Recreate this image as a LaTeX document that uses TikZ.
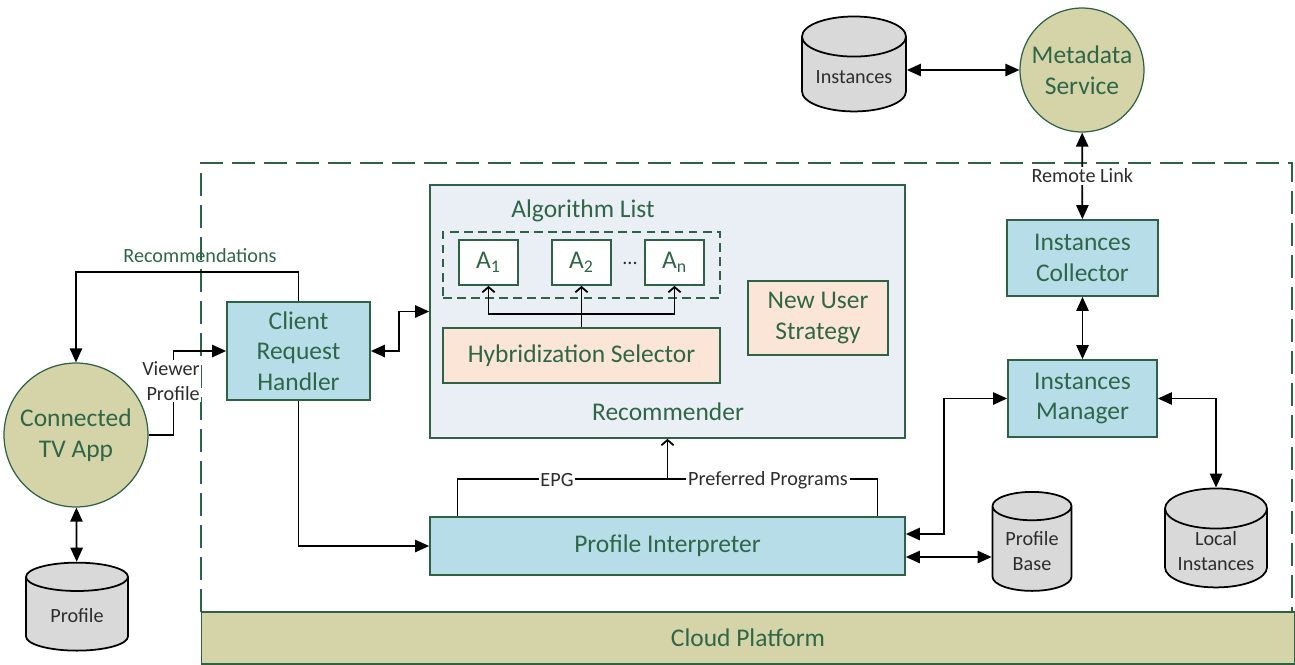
\documentclass[tikz,border=0pt]{standalone}
\usepackage{fontspec}
\setmainfont{Carlito}
\usetikzlibrary{arrows.meta}
\usetikzlibrary{shapes.geometric}

\definecolor{boxgreen}{RGB}{45,98,68}
\definecolor{txtgreen}{RGB}{48,102,72}
\definecolor{boxblue}{RGB}{183,221,232}
\definecolor{recfill}{RGB}{233,239,245}
\definecolor{peach}{RGB}{251,229,214}
\definecolor{olive}{RGB}{212,212,168}
\definecolor{cylgray}{RGB}{217,217,217}
\definecolor{lbltxt}{RGB}{45,45,45}

\newcommand{\boxfont}{\fontsize{14.5}{17.5}\selectfont}
\newcommand{\lblfont}{\fontsize{11.5}{14}\selectfont}

\begin{document}
\begin{tikzpicture}[x=0.02cm,y=-0.02cm,
	box/.style={rectangle,draw=boxgreen,line width=1pt,fill=boxblue,text=txtgreen,font=\boxfont,align=center,inner sep=2pt},
	algbox/.style={box,fill=white,minimum width=1.18cm,minimum height=0.9cm},
	orangebox/.style={box,fill=peach},
	roundnode/.style={circle,draw=boxgreen,line width=0.7pt,fill=olive,text=txtgreen,font=\boxfont,align=center,inner sep=0pt},
	cyl/.style={cylinder,shape border rotate=90,aspect=0.5,draw=black,line width=1pt,fill=cylgray,text=lbltxt,font=\lblfont,align=center,inner sep=1pt},
	lbl/.style={font=\lblfont,text=lbltxt,inner sep=1pt},
	arr/.style={line width=1pt,-{Triangle[length=8pt,width=7pt]}},
	dbl/.style={line width=1pt,{Triangle[length=8pt,width=7pt]}-{Triangle[length=8pt,width=7pt]}},
	open/.style={line width=1pt,-{Straight Barb[length=3pt,width=7pt]}}]

	\useasboundingbox (0,0) rectangle (1295,664);

	% cloud platform frame
	\draw[boxgreen,line width=1.2pt,dash pattern=on 0.46cm off 0.18cm] (201,612) -- (201,163) -- (1292,163) -- (1292,612);
	\node[box,fill=olive,minimum width=21.86cm,minimum height=1.04cm] (cloud) at (748,638) {Cloud Platform};

	% recommender
	\node[box,fill=recfill,minimum width=9.5cm,minimum height=5.06cm] (recom) at (667.5,311.5) {};
	\node[text=txtgreen,font=\boxfont] (reclabel) at (668,412) {Recommender};
	\node[text=txtgreen,font=\boxfont] (alglabel) at (583,211) {Algorithm List};
	\node[draw=boxgreen,line width=1pt,dash pattern=on 5pt off 3pt,minimum width=5.54cm,minimum height=1.32cm] (alglist) at (581.5,265) {};
	\node[algbox] (a1) at (488.5,262.5) {A\textsubscript{1}};
	\node[algbox] (a2) at (581.5,262.5) {A\textsubscript{2}};
	\node[algbox] (an) at (674.5,262.5) {A\textsubscript{n}};
	\node[lbl] (dots) at (630,263) {...};
	\node[orangebox,minimum width=5.54cm,minimum height=1.1cm] (hybrid) at (581.5,355.5) {Hybridization Selector};
	\node[orangebox,minimum width=2.8cm,minimum height=1.48cm] (newuser) at (818,318) {New User\\Strategy};

	\draw[line width=1pt] (hybrid.north) -- ++(0,0.26cm) coordinate (hs);
	\draw[open] (hs) -| (a1.south);
	\draw[open] (hs) -| (an.south);
	\draw[open] (hybrid.north) -- (a2.south);

	% other boxes
	\node[box,minimum width=2.86cm,minimum height=1.96cm] (crh) at (298.5,351) {Client\\Request\\Handler};
	\node[box,minimum width=9.5cm,minimum height=1.16cm] (profint) at (667.5,546) {Profile Interpreter};
	\node[box,minimum width=3.02cm,minimum height=1.52cm] (instcoll) at (1082.5,258) {Instances\\Collector};
	\node[box,minimum width=2.98cm,minimum height=1.54cm] (instmgr) at (1082.5,398.5) {Instances\\Manager};

	\node[roundnode,minimum size=2.88cm] (tvapp) at (76,435) {Connected\\TV App};
	\node[roundnode,minimum size=2.48cm] (metasvc) at (1082,70) {Metadata\\Service};

	\node[cyl,minimum width=2.08cm,minimum height=1.9cm] (instances) at (854,77) {Instances};
	\node[cyl,minimum width=2.04cm,minimum height=1.76cm] (profile) at (77,616) {Profile};
	\node[cyl,minimum width=1.58cm,minimum height=1.98cm] (profbase) at (1032,551) {Profile\\Base};
	\node[cyl,minimum width=2.04cm,minimum height=1.98cm] (localinst) at (1216,551) {Local\\Instances};

	% connectors
	\draw[dbl] (instances.east |- metasvc.west) -- (metasvc.west);
	\draw[dbl] (metasvc) -- node[lbl,fill=white] (remlink) {Remote Link} (instcoll);
	\draw[dbl] (instcoll) -- (instmgr);
	\draw[dbl] ([yshift=0.24cm]profint.east) -- ++(0.76cm,0) |- (instmgr.west);
	\draw[dbl] (instmgr.east) -| (localinst.north);
	\draw[dbl] ([yshift=-0.22cm]profint.east) -- ([yshift=-0.22cm]profint.east -| profbase.west);
	\draw[dbl] (tvapp) -- (profile);

	\draw[arr] (crh.north) -- ++(0,0.58cm) -| (tvapp.north);
	\node[lbl,text=txtgreen] (recslbl) at (200,256) {Recommendations};
	\draw[arr] (tvapp.east) -- ++(0.5cm,0) |- (crh.west);
	\node[lbl,fill=white,align=right] (viewlbl) at (171,381) {Viewer\\Profile};
	\draw[arr] (crh.south) |- (profint.west);
	\draw[dbl] (crh.east) -- ++(0.56cm,0) |- (recom.west);

	\draw[line width=1pt] ([xshift=-4.2cm]profint.north) -- ++(0,0.74cm) coordinate (epg) -- ++(8.4cm,0) -- ++(0,-0.74cm);
	\draw[open] ([yshift=0.74cm]profint.north) -- (recom.south);
	\node[lbl,fill=white] (epglbl) at (557,480) {EPG};
	\node[lbl,fill=white] (preflbl) at (768,480) {Preferred Programs};
\end{tikzpicture}
\end{document}
